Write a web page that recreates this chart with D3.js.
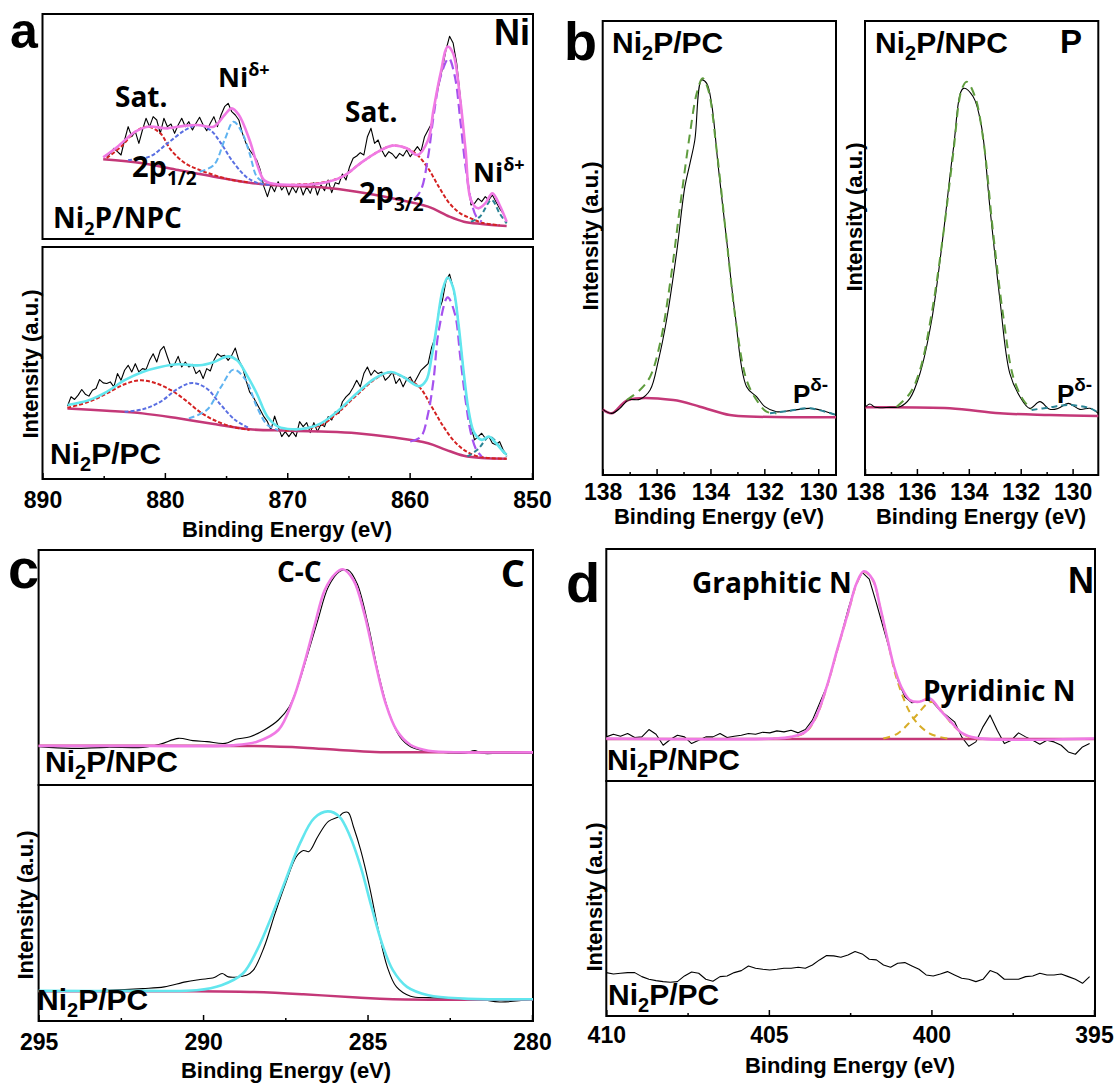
<!DOCTYPE html>
<html>
<head>
<meta charset="utf-8">
<script src="https://cdn.jsdelivr.net/npm/d3@7"></script>
<style>
  body { margin: 0; background: #fff; }
</style>
</head>
<body>
<div id="chart"></div>
<script>
// ---- data: binding energy (eV), intensity (a.u.) ----

// (a) Ni 2p
var aTicks = [890, 880, 870, 860, 850];
var aMinor = [885, 875, 865, 855];

var aNpcRawStart = 884.75, aNpcRawStep = 0.2918;
var aNpcRaw = [244, 254, 269, 259, 249, 294, 334, 304, 319, 284,
               324, 359, 334, 364, 354, 314, 359, 334, 342, 314,
               339, 359, 334, 349, 324, 344, 362, 339, 322, 344,
               364, 334, 369, 394, 404, 379, 369, 354, 314, 284,
               264, 249, 234, 204, 154, 124, 159, 139, 169, 144,
               159, 129, 154, 136, 162, 129, 154, 134, 166, 129,
               159, 142, 174, 136, 166, 162, 192, 174, 214, 239,
               246, 256, 249, 304, 329, 284, 294, 264, 244, 259,
               252, 239, 254, 246, 264, 244, 259, 274, 259, 304,
               324, 344, 414, 459, 509, 564, 605, 585, 524, 424,
               314, 184, 99, 104, 119, 109, 124, 114, 129, 109,
               89, 74, 49];
var aNpcEnv = [[885.04,242],[883.87,274],[882.41,319],[881.39,334],[879.79,329],[878.33,337],[877.31,339],[876.0,334],[875.12,369],[874.54,389],[873.95,369],[873.08,294],[872.49,224],[871.91,174],[871.33,164],[869.29,159],[867.24,164],[865.49,184],[864.03,224],[862.57,259],[861.41,277],[860.24,269],[859.36,249],[858.49,294],[858.05,384],[857.47,494],[856.89,574],[856.45,554],[855.86,414],[855.43,264],[854.99,114],[854.41,89],[853.82,104],[853.24,134],[852.65,99],[852.07,49]];
var aNpcBg = [[885.04,236],[881.83,224],[878.91,204],[876.0,184],[873.08,166],[871.33,159],[867.24,152],[864.33,139],[861.41,119],[858.49,94],[856.74,64],[855.57,49],[854.11,42],[852.07,36]];
var aNpcSat1 = [[884.75,240],[883.58,274],[882.41,319],[881.39,334],[880.37,314],[879.5,264],[878.33,224],[877.16,204],[876.0,189],[874.54,174],[873.08,167]];
var aNpcMain1 = [[883.0,234],[881.25,244],[879.79,284],[878.33,324],[877.31,339],[876.29,324],[875.41,284],[874.54,234],[873.37,184],[872.49,166],[871.33,159]];
var aNpcDelta1 = [[877.16,199],[876.0,219],[875.12,294],[874.39,349],[873.66,314],[873.08,254],[872.49,184],[871.91,166]];
var aNpcSat2 = [[870.16,159],[867.24,166],[865.49,184],[864.03,224],[862.57,259],[861.41,277],[860.24,269],[859.36,249],[858.49,209],[857.62,154],[856.74,104],[855.86,74],[854.99,59],[854.11,46],[852.65,38]];
var aNpcMain2 = [[859.66,114],[859.07,144],[858.49,244],[858.05,364],[857.47,484],[856.8,539],[856.3,484],[855.86,354],[855.43,214],[854.99,114],[854.55,64],[854.11,49]];
var aNpcDelta2 = [[854.99,49],[854.26,64],[853.3,114],[852.65,74],[852.07,44]];

var aPcRawStart = 887.96, aPcRawStep = 0.2918;
var aPcRaw = [220, 248, 240, 253, 270, 256, 250, 268, 273, 300,
              290, 288, 293, 278, 318, 298, 328, 343, 323, 348,
              323, 333, 330, 358, 378, 353, 388, 400, 368, 338,
              346, 370, 338, 353, 338, 346, 318, 328, 303, 333,
              326, 358, 378, 370, 373, 358, 373, 395, 358, 338,
              298, 263, 248, 228, 208, 188, 173, 148, 190, 158,
              128, 143, 128, 143, 128, 173, 158, 170, 140, 170,
              143, 165, 158, 188, 178, 203, 198, 233, 248, 258,
              276, 298, 278, 318, 338, 313, 328, 318, 323, 298,
              308, 323, 288, 303, 278, 300, 308, 288, 308, 328,
              338, 348, 398, 428, 508, 538, 598, 618, 578, 518,
              418, 318, 218, 158, 118, 128, 138, 123, 128, 108,
              103, 113, 88, 73];
var aPcEnv = [[887.96,223],[886.21,238],[884.75,263],[883.29,298],[881.83,323],[880.37,338],[878.91,346],[877.16,343],[876.0,353],[874.83,370],[874.1,358],[873.37,318],[872.49,258],[871.62,188],[870.74,158],[869.58,150],[868.41,153],[867.24,168],[865.78,208],[864.33,258],[862.87,303],[861.55,323],[860.53,308],[859.22,280],[858.64,298],[858.2,368],[857.76,468],[857.32,568],[856.89,608],[856.45,578],[856.01,468],[855.57,318],[855.14,198],[854.7,138],[854.11,118],[853.53,128],[852.95,108],[852.36,83],[852.07,73]];
var aPcBg = [[887.96,213],[884.75,206],[881.83,198],[878.91,183],[876.0,166],[873.08,150],[870.16,146],[867.24,143],[864.33,138],[861.41,126],[858.49,108],[857.03,88],[855.57,70],[854.11,63],[852.07,61]];
var aPcSat1 = [[887.96,215],[886.21,233],[884.75,258],[883.29,286],[881.98,298],[880.66,288],[879.5,268],[878.33,238],[877.16,203],[876.0,178],[874.54,158],[873.08,148]];
var aPcMain1 = [[883.29,203],[881.83,210],[880.37,233],[878.91,273],[877.75,290],[876.58,273],[875.41,223],[874.25,178],[873.08,153]];
var aPcDelta1 = [[878.04,183],[876.58,208],[875.41,278],[874.39,330],[873.37,298],[872.49,218],[871.62,163],[870.74,148]];
var aPcSat2 = [[870.16,146],[867.24,163],[865.78,203],[864.33,253],[862.87,300],[861.7,321],[860.53,308],[859.22,278],[858.2,218],[857.32,163],[856.45,118],[855.57,88],[854.41,68],[852.07,61]];
var aPcMain2 = [[859.95,113],[859.07,128],[858.49,198],[858.05,298],[857.62,448],[856.89,548],[856.3,498],[855.86,368],[855.43,238],[854.99,138],[854.55,88],[854.11,68]];
var aPcDelta2 = [[855.28,68],[854.41,90],[853.47,128],[852.65,98],[852.07,68]];

// (b) P 2p
var bTicks = [138, 136, 134, 132, 130];
var bMinor = [137, 135, 133, 131];
var bPcRaw = [[138,197],[137.67,185],[137.36,200],[137.05,225],[136.62,227],[136.24,255],[135.93,345],[135.63,465],[135.26,665],[134.95,865],[134.76,935],[134.58,1005],[134.33,1185],[134.14,1175],[133.96,1115],[133.71,925],[133.4,705],[133.09,485],[132.66,265],[132.29,235],[131.98,205],[131.55,190],[131.05,193],[130.31,200],[129.82,193],[129.34,180]];
var bPcFit = [[137.11,225],[136.62,255],[136.24,295],[135.87,395],[135.5,575],[135.13,805],[134.76,1025],[134.51,1145],[134.29,1190],[134.08,1155],[133.77,975],[133.4,705],[133.03,445],[132.66,285],[132.29,225],[131.92,190],[131.55,185]];
var bPcDelta = [[131.79,185],[131.05,193],[130.31,200],[129.34,180]];
var bPcBg = [[138,197],[137.67,185],[137.05,225],[135.38,225],[134.39,205],[133.28,180],[132.29,175],[129.34,173]];
var bNpcRaw = [[138,203],[137.81,213],[137.61,203],[137.04,203],[136.65,205],[136.27,230],[135.88,305],[135.43,465],[134.98,725],[134.6,975],[134.21,1160],[133.83,1135],[133.51,1045],[133.19,805],[132.8,525],[132.42,305],[132.03,235],[131.65,200],[131.26,220],[130.88,197],[130.55,200],[130.17,215],[129.72,197],[129.33,200],[129.01,185]];
var bNpcFit = [[136.78,205],[136.27,245],[135.88,315],[135.43,485],[134.98,725],[134.6,965],[134.28,1155],[134.08,1180],[133.76,1135],[133.44,1005],[133.06,725],[132.67,475],[132.29,295],[131.9,225],[131.58,197]];
var bNpcDelta = [[131.58,195],[130.88,203],[130.17,210],[129.33,200],[129.01,187]];
var bNpcBg = [[138,203],[134.73,200],[132.8,185],[130.88,180],[129.01,177]];

// (c) C 1s
var cTicks = [295, 290, 285, 280];
var cMinor = [292.5, 287.5, 282.5];
var cNpcRaw = [[295,115],[294.0,110],[292.92,113],[291.83,113],[291.29,123],[290.75,140],[290.31,133],[289.88,130],[289.33,125],[289.01,137],[288.57,145],[288.14,165],[287.71,195],[287.38,235],[287.16,285],[286.84,385],[286.51,495],[286.19,595],[285.86,640],[285.59,645],[285.32,605],[284.99,485],[284.67,335],[284.34,215],[284.02,145],[283.69,115],[283.26,103],[282.6,97],[282.06,95],[281.73,103],[281.52,95],[280.98,95],[279.97,95]];
var cNpcEnv = [[295,117],[291.83,117],[289.12,119],[288.36,130],[287.71,165],[287.27,255],[286.95,355],[286.62,475],[286.3,585],[285.97,635],[285.75,647],[285.43,615],[285.1,515],[284.78,375],[284.45,245],[284.12,165],[283.69,120],[283.15,103],[282.06,98],[279.97,98]];
var cNpcBg = [[295,118],[290.75,118],[288.57,117],[286.95,112],[285.86,105],[284.78,99],[283.15,98],[279.97,98]];
var cPcRaw = [[295,89],[292.92,92],[291.83,97],[291.18,102],[290.53,117],[290.09,124],[289.66,130],[289.42,142],[289.23,132],[288.68,137],[288.47,152],[288.14,222],[287.81,322],[287.49,412],[287.16,492],[286.95,510],[286.78,507],[286.51,552],[286.19,597],[285.86,612],[285.75,622],[285.59,624],[285.43,582],[285.21,512],[284.94,402],[284.67,272],[284.4,162],[284.12,102],[283.69,74],[283.15,70],[282.06,67],[281.52,64],[280.98,57],[279.97,65]];
var cPcEnv = [[295,90],[291.83,90],[290.2,92],[289.44,107],[288.79,142],[288.36,212],[287.92,312],[287.49,422],[287.05,532],[286.62,607],[286.21,627],[285.86,612],[285.53,552],[285.21,462],[284.88,342],[284.56,232],[284.23,152],[283.8,102],[283.15,77],[282.06,67],[279.97,65]];
var cPcBg = [[295,89],[290.75,89],[288.57,87],[286.95,80],[285.32,70],[284.23,65],[279.97,64]];

// (d) N 1s
var dTicks = [410, 405, 400, 395];
var dMinor = [407.5, 402.5, 397.5];
var dRawStart = 410, dRawStep = 0.2186;
var dNpcRaw = [132, 140, 134, 142, 130, 132, 154, 140, 107, 124,
               137, 132, 112, 122, 132, 132, 142, 130, 134, 137,
               142, 140, 146, 144, 150, 147, 152, 144, 154, 182,
               232, 282, 352, 432, 512, 582, 624, 604, 532, 457,
               382, 302, 252, 234, 237, 244, 234, 210, 194, 177,
               132, 104, 117, 162, 197, 152, 112, 122, 144, 132,
               122, 110, 122, 117, 107, 87, 80, 102, 112];
var dPcRaw = [130, 126, 128, 130, 130, 118, 110, 106, 103, 101,
              103, 120, 132, 128, 110, 104, 118, 120, 130, 136,
              150, 143, 140, 138, 140, 143, 143, 146, 143, 153,
              168, 181, 180, 176, 183, 193, 186, 170, 168, 153,
              146, 158, 160, 150, 140, 123, 120, 126, 133, 123,
              113, 110, 103, 110, 136, 128, 110, 110, 110, 118,
              120, 128, 123, 123, 126, 118, 110, 98, 118];
var dNpcEnv = [[410,127],[404.86,127],[404.32,132],[403.88,147],[403.55,192],[403.22,282],[402.9,392],[402.57,502],[402.3,592],[402.08,627],[401.8,602],[401.58,522],[401.37,432],[401.15,342],[400.93,282],[400.66,242],[400.38,237],[400.05,247],[399.73,212],[399.4,177],[399.07,144],[398.63,129],[395.0,127]];
var dNpcBg = [[410,126],[395,126]];
var dGraphitic = [[404.86,127],[404.32,131],[403.88,145],[403.55,190],[403.22,280],[402.9,390],[402.57,500],[402.3,590],[402.08,625],[401.8,600],[401.58,520],[401.37,430],[401.04,297],[400.55,187],[400.05,142],[399.51,127]];
var dPyridinic = [[401.48,127],[401.04,142],[400.55,187],[400.0,237],[399.67,207],[399.29,162],[398.85,132],[398.52,127]];

// ---- drawing ----

var col = {
    raw: "#000",
    pink: "#f07ae4",
    cyan: "#62e6ee",
    bg: "#c43878",
    red: "#d42222",
    blue: "#5a6fe2",
    lightBlue: "#5fb3f0",
    purple: "#a552ee",
    teal: "#2b8495",
    green: "#5f9c3e",
    yellow: "#d8ad28"
};
var axisFont = "'Liberation Sans', Arial, sans-serif";
var noteFont = "'Open Sans', Lato, sans-serif";

var svg = d3.select("#chart").append("svg")
    .attr("width", 1118)
    .attr("height", 1086)
    .style("background", "#fff");

var spectrum = function(start, step, vals) {
    return vals.map(function(v, i) { return [start - i * step, v]; });
};

var frame = function(x0, x1, y0, y1) {
    svg.append("rect")
        .attr("x", x0).attr("y", y0)
        .attr("width", x1 - x0).attr("height", y1 - y0)
        .attr("fill", "none")
        .attr("stroke", "#000")
        .attr("stroke-width", 2);
};

// draw one curve on a given pair of scales
var curve = function(x, y, data, color, width, dash, smooth) {
    var gen = d3.line()
        .x(function(d) { return x(d[0]); })
        .y(function(d) { return y(d[1]); })
        .curve(smooth ? d3.curveCatmullRom.alpha(0.5) : d3.curveLinear);
    svg.append("path")
        .attr("d", gen(data))
        .attr("fill", "none")
        .attr("stroke", color)
        .attr("stroke-width", width)
        .attr("stroke-dasharray", dash || null)
        .attr("stroke-linejoin", "round");
};

var bottomAxis = function(x, yPos, major, minor, pad) {
    svg.append("g")
        .attr("transform", "translate(0," + yPos + ")")
        .call(d3.axisBottom(x).tickValues(minor).tickSize(-3).tickFormat(""))
        .call(function(g) { g.select(".domain").remove(); })
        .selectAll("line").attr("stroke-width", 1.5);
    var g = svg.append("g")
        .attr("transform", "translate(0," + yPos + ")")
        .call(d3.axisBottom(x).tickValues(major).tickSize(-6).tickPadding(pad).tickFormat(d3.format("d")));
    g.select(".domain").remove();
    g.selectAll("line").attr("stroke-width", 1.5);
    g.selectAll("text")
        .attr("font-family", axisFont)
        .attr("font-weight", "bold")
        .attr("font-size", 23)
        .attr("fill", "#000");
};

var xTitle = function(cx, baseline) {
    svg.append("text")
        .attr("x", cx).attr("y", baseline)
        .attr("text-anchor", "middle")
        .attr("font-family", axisFont)
        .attr("font-weight", "bold")
        .attr("font-size", 22)
        .text("Binding Energy (eV)");
};

var yTitle = function(cx, cy) {
    svg.append("text")
        .attr("transform", "translate(" + cx + "," + cy + ") rotate(-90)")
        .attr("dy", "0.35em")
        .attr("text-anchor", "middle")
        .attr("font-family", axisFont)
        .attr("font-weight", "bold")
        .attr("font-size", 22)
        .text("Intensity (a.u.)");
};

// text made of parts: [string, shift (px, + is down), size]
var rich = function(x, y, parts, family, size, anchor) {
    var t = svg.append("text")
        .attr("x", x).attr("y", y)
        .attr("font-family", family)
        .attr("font-weight", "bold")
        .attr("font-size", size)
        .attr("text-anchor", anchor || "start");
    var shift = 0;
    parts.forEach(function(p) {
        var s = p[1] || 0;
        t.append("tspan")
            .attr("dy", s - shift)
            .attr("font-size", p[2] || size)
            .text(p[0]);
        shift = s;
    });
};

var sample = function(x, y, rest, family, size) {
    rich(x, y, [["Ni"], ["2", 7, Math.round(size * 0.65)], [rest, 0]], family, size || 28);
};

// ---------- (a) Ni 2p ----------
var ax = d3.scaleLinear().domain([890, 850]).range([42.5, 532]);
var ayTop = d3.scaleLinear().domain([0, 672]).range([238, 14]);
var ayBot = d3.scaleLinear().domain([0, 700]).range([479, 247]);

frame(42.5, 533, 14, 239);
frame(42.5, 533, 247, 479);

curve(ax, ayTop, spectrum(aNpcRawStart, aNpcRawStep, aNpcRaw), col.raw, 1.1);
curve(ax, ayTop, aNpcBg, col.bg, 2.5, null, true);
curve(ax, ayTop, aNpcSat1, col.red, 2, "4,2", true);
curve(ax, ayTop, aNpcMain1, col.blue, 2, "4,2", true);
curve(ax, ayTop, aNpcDelta1, col.lightBlue, 2, "6,3", true);
curve(ax, ayTop, aNpcSat2, col.red, 2, "4,2", true);
curve(ax, ayTop, aNpcMain2, col.purple, 2.2, "10,5", true);
curve(ax, ayTop, aNpcDelta2, col.teal, 2, "5,3", true);
curve(ax, ayTop, aNpcEnv, col.pink, 2.6, null, true);

curve(ax, ayBot, spectrum(aPcRawStart, aPcRawStep, aPcRaw), col.raw, 1.1);
curve(ax, ayBot, aPcBg, col.bg, 2.5, null, true);
curve(ax, ayBot, aPcSat1, col.red, 2, "4,2", true);
curve(ax, ayBot, aPcMain1, col.blue, 2, "4,2", true);
curve(ax, ayBot, aPcDelta1, col.lightBlue, 2, "6,3", true);
curve(ax, ayBot, aPcSat2, col.red, 2, "4,2", true);
curve(ax, ayBot, aPcMain2, col.purple, 2.2, "10,5", true);
curve(ax, ayBot, aPcDelta2, col.teal, 2, "5,3", true);
curve(ax, ayBot, aPcEnv, col.cyan, 2.6, null, true);

bottomAxis(ax, 479, aTicks, aMinor, 13);
xTitle(287, 537);
yTitle(30, 364);

rich(10, 48, [["a"]], axisFont, 50);
rich(530, 45, [["Ni"]], axisFont, 36, "end");
rich(115, 107, [["Sat."]], noteFont, 28);
rich(218, 87, [["Ni"], ["\u03b4+", -11, 18]], noteFont, 27);
rich(132, 177, [["2p"], ["1/2", 8, 19]], noteFont, 29);
rich(345, 122, [["Sat."]], noteFont, 28);
rich(359, 203, [["2p"], ["3/2", 8, 19]], noteFont, 29);
rich(473, 182, [["Ni"], ["\u03b4+", -11, 18]], noteFont, 27);
sample(53, 228, "P/NPC", noteFont, 28);
sample(50, 464, "P/PC", axisFont, 30);

// ---------- (b) P 2p ----------
var bxL = d3.scaleLinear().domain([138, 129.34]).range([602.7, 836]);
var bxR = d3.scaleLinear().domain([138, 129.01]).range([865, 1098.3]);
var by = d3.scaleLinear().domain([0, 1360]).range([475, 21.7]);

frame(602.7, 836, 21, 475);
frame(865, 1098.3, 21, 475);

curve(bxL, by, bPcBg, col.bg, 2.5, null, true);
curve(bxL, by, bPcRaw, col.raw, 1.1, null, true);
curve(bxL, by, bPcFit, col.green, 2, "9,6", true);
curve(bxL, by, bPcDelta, col.teal, 2, "6,4", true);

curve(bxR, by, bNpcBg, col.bg, 2.5, null, true);
curve(bxR, by, bNpcRaw, col.raw, 1.1, null, true);
curve(bxR, by, bNpcFit, col.green, 2, "9,6", true);
curve(bxR, by, bNpcDelta, col.teal, 2, "6,4", true);

bottomAxis(bxL, 475, bTicks, bMinor, 9);
bottomAxis(bxR, 475, bTicks, bMinor, 9);
xTitle(719, 524);
xTitle(981, 524);
yTitle(590, 236);
yTitle(854, 217);

rich(564, 60, [["b"]], axisFont, 54);
sample(612, 53, "P/PC", axisFont, 30);
sample(875, 53, "P/NPC", axisFont, 30);
rich(1082, 53, [["P"]], axisFont, 33, "end");
rich(793, 403, [["P"], ["\u03b4-", -12, 19]], axisFont, 26);
rich(1057, 403, [["P"], ["\u03b4-", -12, 19]], axisFont, 26);

// ---------- (c) C 1s ----------
var cx = d3.scaleLinear().domain([295, 280]).range([38.6, 532]);
var cyTop = d3.scaleLinear().domain([0, 705]).range([785, 550]);
var cyBot = d3.scaleLinear().domain([0, 718]).range([1021, 781]);

frame(38.6, 533, 550, 785);
frame(38.6, 533, 785, 1021);

curve(cx, cyTop, cNpcRaw, col.raw, 1.1, null, true);
curve(cx, cyTop, cNpcBg, col.bg, 2.5, null, true);
curve(cx, cyTop, cNpcEnv, col.pink, 2.6, null, true);

curve(cx, cyBot, cPcRaw, col.raw, 1.1, null, true);
curve(cx, cyBot, cPcBg, col.bg, 2.5, null, true);
curve(cx, cyBot, cPcEnv, col.cyan, 2.6, null, true);

bottomAxis(cx, 1021, cTicks, cMinor, 13);
xTitle(286, 1078);
yTitle(25, 905);

rich(8, 588, [["c"]], axisFont, 56);
rich(277, 582, [["C-C"]], noteFont, 28);
rich(525, 587, [["C"]], noteFont, 38, "end");
sample(45, 772, "P/NPC", axisFont, 30);
sample(37, 1010, "P/PC", axisFont, 30);

// ---------- (d) N 1s ----------
var dx = d3.scaleLinear().domain([410, 395]).range([606.3, 1094]);
var dyTop = d3.scaleLinear().domain([0, 694]).range([781, 549]);
var dyBot = d3.scaleLinear().domain([0, 704]).range([1016, 781]);

frame(606.3, 1095, 549, 781);
frame(606.3, 1095, 781, 1016);

curve(dx, dyTop, spectrum(dRawStart, dRawStep, dNpcRaw), col.raw, 1.1);
curve(dx, dyTop, dNpcBg, col.bg, 2.5);
curve(dx, dyTop, dGraphitic, col.yellow, 2, "7,5", true);
curve(dx, dyTop, dPyridinic, col.yellow, 2, "7,5", true);
curve(dx, dyTop, dNpcEnv, col.pink, 2.6, null, true);

curve(dx, dyBot, spectrum(dRawStart, dRawStep, dPcRaw), col.raw, 1.1);

bottomAxis(dx, 1016, dTicks, dMinor, 11);
xTitle(850, 1073);
yTitle(594, 897);

rich(566, 602, [["d"]], axisFont, 56);
rich(692, 593, [["Graphitic N"]], noteFont, 28);
rich(1094, 593, [["N"]], axisFont, 36, "end");
rich(923, 701, [["Pyridinic N"]], noteFont, 28);
sample(607, 770, "P/NPC", axisFont, 30);
sample(608, 1005, "P/PC", axisFont, 30);
</script>
</body>
</html>
